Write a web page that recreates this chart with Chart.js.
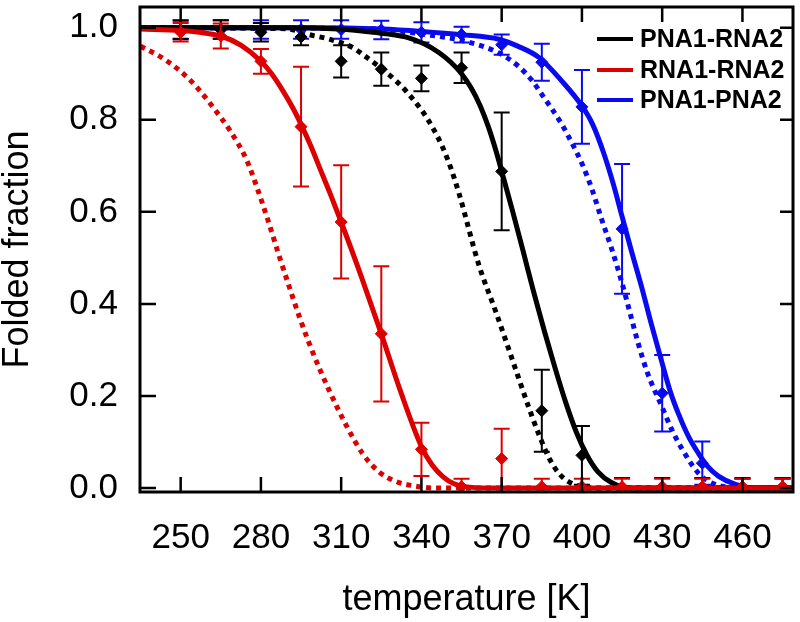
<!DOCTYPE html>
<html><head><meta charset="utf-8">
<script src="https://cdn.jsdelivr.net/npm/chart.js@4.4.0/dist/chart.umd.min.js"></script>
<style>html,body{margin:0;padding:0;background:#fff;}</style>
</head><body>
<canvas id="c" width="800" height="622" style="display:block;width:800px;height:622px"></canvas>
<script>
// ---- data ----
const temps = [250,265,280,295,310,325,340,355,370,385,400,415,430,445,460,475];
const xTicks = [250,280,310,340,370,400,430,460];
const yTicks = [0,0.2,0.4,0.6,0.8,1.0];
const seriesNames = ['PNA1-RNA2','RNA1-RNA2','PNA1-PNA2'];

const pnaRnaVal = [0.996,0.996,0.99,0.98,0.927,0.91,0.89,0.913,0.688,0.168,0.071,0.0,0.0,0.0,0.0,0.0];
const pnaRnaErr = [0.02,0.02,0.02,0.018,0.035,0.036,0.028,0.033,0.128,0.089,0.064,0.022,0.022,0.022,0.022,0.022];
const rnaRnaVal = [0.99,0.982,0.927,0.785,0.578,0.335,0.084,0.003,0.064,0.003,0.003,0.003,0.003,0.003,0.003,0.003];
const rnaRnaErr = [0.02,0.027,0.027,0.13,0.123,0.147,0.058,0.017,0.065,0.017,0.017,0.017,0.017,0.017,0.017,0.017];
const pnaPnaVal = [0.995,0.996,0.996,0.996,0.996,0.995,0.99,0.985,0.963,0.925,0.828,0.563,0.206,0.054,0.0,0.0];
const pnaPnaErr = [0.02,0.02,0.02,0.02,0.02,0.02,0.022,0.017,0.022,0.04,0.08,0.141,0.083,0.047,0.02,0.02];

// fitted curves (solid) and model curves (dotted), read point by point
const rnaFitT = [235,250,257,265,272.5,280,284,288,292,295,298.5,302,306,310,317.5,325,332.5,340,344,348,352,358,370,440,479];
const rnaFitV = [0.997,0.994,0.99,0.982,0.962,0.927,0.9,0.865,0.825,0.79,0.745,0.695,0.638,0.578,0.46,0.335,0.205,0.09,0.05,0.025,0.01,0.002,0,0,0];
const rnaDotT = [235,243,250,256,262,268.5,274.7,279,283,286.5,291,294.5,298,302,305.6,312,318,324,330.6,337,345,400,479];
const rnaDotV = [0.96,0.935,0.905,0.871,0.828,0.776,0.712,0.645,0.575,0.51,0.43,0.37,0.315,0.258,0.211,0.135,0.075,0.036,0.014,0.005,0,0,0];
const pnaRnaFitT = [235,290,309,322,334,341,346.5,351,355,358.5,362,365,368,371,374,378,382,386,390,394,398,402,406,411,418,450,479];
const pnaRnaFitV = [1.0,1.0,0.997,0.99,0.98,0.965,0.946,0.925,0.9,0.87,0.83,0.785,0.73,0.667,0.603,0.515,0.425,0.34,0.26,0.185,0.12,0.07,0.035,0.012,0,0,0];
const pnaRnaDotT = [235,289,298,305.6,314.3,318,325.4,330.6,334.3,340.3,344,347.8,351,354,361.5,367.8,373.8,380.2,384,388,392,397,405,440,479];
const pnaRnaDotV = [1.0,0.998,0.985,0.975,0.957,0.942,0.91,0.884,0.862,0.819,0.785,0.742,0.695,0.641,0.484,0.383,0.282,0.174,0.115,0.062,0.028,0.008,0,0,0];
const pnaPnaFitT = [235,300,325,340,355,369,376,384,392.5,400,404,408,411.5,415,418.5,422.4,426,429.8,433,436.1,440,443.6,447,451,457.4,465,479];
const pnaPnaFitV = [1.0,1.0,0.997,0.992,0.985,0.975,0.96,0.935,0.884,0.83,0.79,0.73,0.665,0.59,0.515,0.435,0.355,0.275,0.21,0.161,0.11,0.075,0.047,0.026,0.008,0,0];
const pnaPnaDotT = [235,320,341.8,356.7,369,376.5,381.4,385,392.5,396.2,400,403.7,407.3,411.1,414.9,418,421,424.5,429.8,433.5,437.3,443.6,448.5,455,465,479];
const pnaPnaDotV = [1.0,0.998,0.985,0.97,0.945,0.915,0.885,0.855,0.79,0.75,0.705,0.65,0.585,0.52,0.447,0.38,0.315,0.25,0.178,0.128,0.086,0.032,0.011,0.002,0,0];

const BLACK = '#000000', RED = '#dd0000', BLUE = '#0a0af0';
const FONT = "'Liberation Sans', Arial, sans-serif";

function pts(xs, ys){ return xs.map((x,i)=>({x:x, y:ys[i]})); }

function curve(xs, ys, color, dotted, order){
  return {data: pts(xs,ys), showLine:true, borderColor:color, backgroundColor:color,
    borderWidth: 5, borderDash: dotted?[5,5]:[], borderCapStyle: 'butt',
    pointRadius:0, cubicInterpolationMode:'monotone', order:order};
}
function marks(vals, errs, color, order){
  return {data: pts(temps, vals), errors: errs, showLine:false, borderColor:color, backgroundColor:color,
    pointStyle:'rectRot', pointRadius:6, pointBorderWidth:1, order:order};
}

const framePlugin = {
  id:'frame',
  beforeDatasetDraw(chart, args){
    const ds = chart.data.datasets[args.index];
    if(!ds.errors) return;
    const xs = chart.scales.x, ys = chart.scales.y, ctx = chart.ctx, a = chart.chartArea;
    ctx.save();
    ctx.beginPath(); ctx.rect(a.left, a.top, a.right-a.left, a.bottom-a.top); ctx.clip();
    ctx.strokeStyle = ds.borderColor; ctx.lineWidth = 2;
    ds.data.forEach((p,i)=>{
      const e = ds.errors[i];
      const x = xs.getPixelForValue(p.x);
      const y1 = ys.getPixelForValue(p.y - e), y2 = ys.getPixelForValue(p.y + e);
      ctx.beginPath();
      ctx.moveTo(x,y1); ctx.lineTo(x,y2);
      ctx.moveTo(x-8,y1); ctx.lineTo(x+8,y1);
      ctx.moveTo(x-8,y2); ctx.lineTo(x+8,y2);
      ctx.stroke();
    });
    ctx.restore();
  },
  afterDraw(chart){
    const ctx = chart.ctx, a = chart.chartArea, xs = chart.scales.x, ys = chart.scales.y;
    ctx.save();
    ctx.strokeStyle = '#000';
    ctx.lineWidth = 2.5;
    ctx.beginPath();
    xTicks.forEach(v=>{
      const x = xs.getPixelForValue(v);
      ctx.moveTo(x, a.bottom); ctx.lineTo(x, a.bottom-15);
      ctx.moveTo(x, a.top); ctx.lineTo(x, a.top+15);
    });
    yTicks.forEach(v=>{
      const y = ys.getPixelForValue(v);
      ctx.moveTo(a.left, y); ctx.lineTo(a.left+16, y);
      ctx.moveTo(a.right, y); ctx.lineTo(a.right-13, y);
    });
    ctx.stroke();
    ctx.lineWidth = 3;
    ctx.strokeRect(a.left, a.top, a.right-a.left, a.bottom-a.top);
    // legend
    const cols = [BLACK, RED, BLUE];
    const ly = [39, 70, 100];
    ctx.font = 'bold 25px ' + FONT;
    ctx.textBaseline = 'middle';
    ctx.textAlign = 'left';
    seriesNames.forEach((n,i)=>{
      ctx.strokeStyle = cols[i]; ctx.lineWidth = 4;
      ctx.beginPath(); ctx.moveTo(597, ly[i]); ctx.lineTo(633, ly[i]); ctx.stroke();
      ctx.fillStyle = '#000';
      ctx.fillText(n, 640, ly[i]+1);
    });
    ctx.restore();
  }
};

Chart.defaults.font.family = FONT;
Chart.defaults.color = '#000';

new Chart(document.getElementById('c'), {
  type:'scatter',
  data:{datasets:[
    marks(rnaRnaVal, rnaRnaErr, RED, 1),
    curve(rnaFitT, rnaFitV, RED, false, 2),
    marks(pnaRnaVal, pnaRnaErr, BLACK, 3),
    curve(pnaRnaFitT, pnaRnaFitV, BLACK, false, 4),
    marks(pnaPnaVal, pnaPnaErr, BLUE, 5),
    curve(pnaPnaFitT, pnaPnaFitV, BLUE, false, 6),
    curve(rnaDotT, rnaDotV, RED, true, 7),
    curve(pnaRnaDotT, pnaRnaDotV, BLACK, true, 8),
    curve(pnaPnaDotT, pnaPnaDotV, BLUE, true, 9)
  ]},
  options:{
    responsive:false, devicePixelRatio:1, animation:false,
    layout:{padding:{top:2, right:5, left:0, bottom:0}},
    plugins:{legend:{display:false}, tooltip:{enabled:false}},
    scales:{
      x:{type:'linear', min:234.8, max:478.9,
        grid:{display:false, drawTicks:false}, border:{display:false},
        afterBuildTicks:(s)=>{ s.ticks = xTicks.map(v=>({value:v})); },
        afterFit:(s)=>{ s.height = 130; s.paddingLeft = 0; s.paddingRight = 0; },
        ticks:{font:{size:35}, padding:25, maxRotation:0, autoSkip:false, callback:(v)=>String(v)},
        title:{display:true, text:'temperature [K]', font:{size:36, lineHeight:1}, padding:{top:0,bottom:4}}
      },
      y:{type:'linear', min:-0.0086, max:1.045,
        grid:{display:false, drawTicks:false}, border:{display:false},
        afterBuildTicks:(s)=>{ s.ticks = yTicks.map(v=>({value:v})); },
        afterFit:(s)=>{ s.width = 140; s.paddingTop = 0; s.paddingBottom = 0; },
        ticks:{font:{size:35}, padding:22, autoSkip:false, callback:(v)=>Number(v).toFixed(1)},
        title:{display:true, text:'Folded fraction', font:{size:36, lineHeight:1}, padding:{top:0,bottom:0}}
      }
    }
  },
  plugins:[framePlugin]
});
</script></body></html>
